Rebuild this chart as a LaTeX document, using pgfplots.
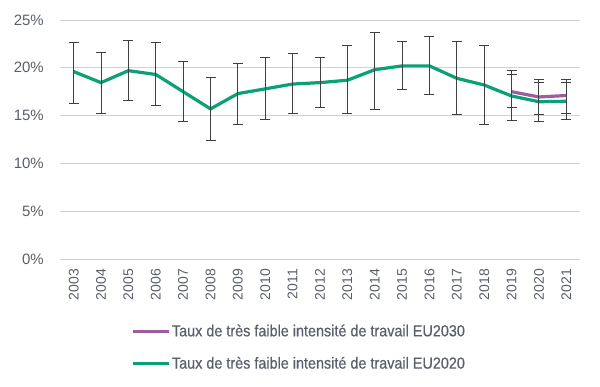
\documentclass[border=0pt]{standalone}
\usepackage{fontspec}
\setmainfont{Liberation Sans}
\newfontfamily\legfont[FakeStretch=0.9,FakeBold=0.6]{Liberation Sans}
\usepackage{pgfplots}
\pgfplotsset{compat=1.18}
\usepackage{pgfplotstable}
\definecolor{eugreen}{HTML}{0BA078}
\definecolor{eupurple}{HTML}{9A5E9E}
\definecolor{txt}{HTML}{5A5F6A}
\definecolor{errc}{HTML}{404040}
\pgfplotstableread{
x y ep em
0 19.6 3.1 3.3
1 18.45 3.15 3.25
2 19.7 3.2 3.1
3 19.3 3.3 3.2
4 17.5 3.2 3.1
5 15.7 3.3 3.3
6 17.3 3.2 3.2
7 17.8 3.3 3.2
8 18.3 3.2 3.1
9 18.45 2.65 2.65
10 18.7 3.6 3.5
11 19.8 3.9 4.2
12 20.2 2.6 2.5
13 20.2 3.1 3.0
14 18.9 3.9 3.8
15 18.2 4.1 4.1
16 17.05 2.3 2.55
17 16.45 2.05 2.05
18 16.5 2.0 1.9
}\greendata
\pgfplotstableread{
x y ep em
16 17.5 2.2 1.7
17 16.95 1.85 1.85
18 17.1 1.7 1.9
}\purpledata
\begin{document}
\begin{tikzpicture}[x=1pt,y=1pt]
\useasboundingbox (-60pt,-128pt) rectangle (540pt,259pt);
\begin{axis}[
  at={(0pt,0pt)}, anchor=south west,
  scale only axis, width=520pt, height=239pt,
  xmin=-0.5, xmax=18.5, ymin=0, ymax=25,
  axis line style={draw=none},
  major tick length=0pt,
  ytick={0,5,10,15,20,25},
  yticklabels={0\%,5\%,10\%,15\%,20\%,25\%},
  xtick={0,...,18},
  xticklabels={2003,2004,2005,2006,2007,2008,2009,2010,2011,2012,2013,2014,2015,2016,2017,2018,2019,2020,2021},
  x tick label style={rotate=90, anchor=east, font=\fontsize{14}{16}\selectfont, text=txt, inner sep=0pt, xshift=-10pt, yshift=0pt},
  y tick label style={font=\fontsize{15}{17}\selectfont, text=txt, inner sep=0pt, xshift=-16pt},
  ymajorgrids, grid style={color=gray!35, line width=0.8pt},
  clip=false,
  legend reversed,
  legend cell align=left,
  legend style={at={(axis description cs:0.138,-0.265)}, anchor=north west, draw=none, fill=none,
    font=\legfont\fontsize{16}{18}\selectfont, text=txt, row sep=15pt, inner sep=0pt,
    nodes={inner xsep=1pt}},
  legend image code/.code={\draw[#1, line width=3pt] (0pt,0pt) -- (36pt,0pt);},
  error bars/error bar style={color=errc, line width=0.9pt},
  error bars/error mark options={rotate=90, mark size=5pt, line width=0.9pt, color=errc},
]
\addplot[color=eugreen, line width=3.2pt, line join=round, mark=none,
  error bars/.cd, y dir=both, y explicit]
  table[x=x, y=y, y error plus=ep, y error minus=em] {\greendata};
\addlegendentry{Taux de très faible intensité de travail EU2020}
\addplot[color=eupurple, line width=3.2pt, line join=round, mark=none,
  error bars/.cd, y dir=both, y explicit]
  table[x=x, y=y, y error plus=ep, y error minus=em] {\purpledata};
\addlegendentry{Taux de très faible intensité de travail EU2030}
\end{axis}
\end{tikzpicture}
\end{document}
